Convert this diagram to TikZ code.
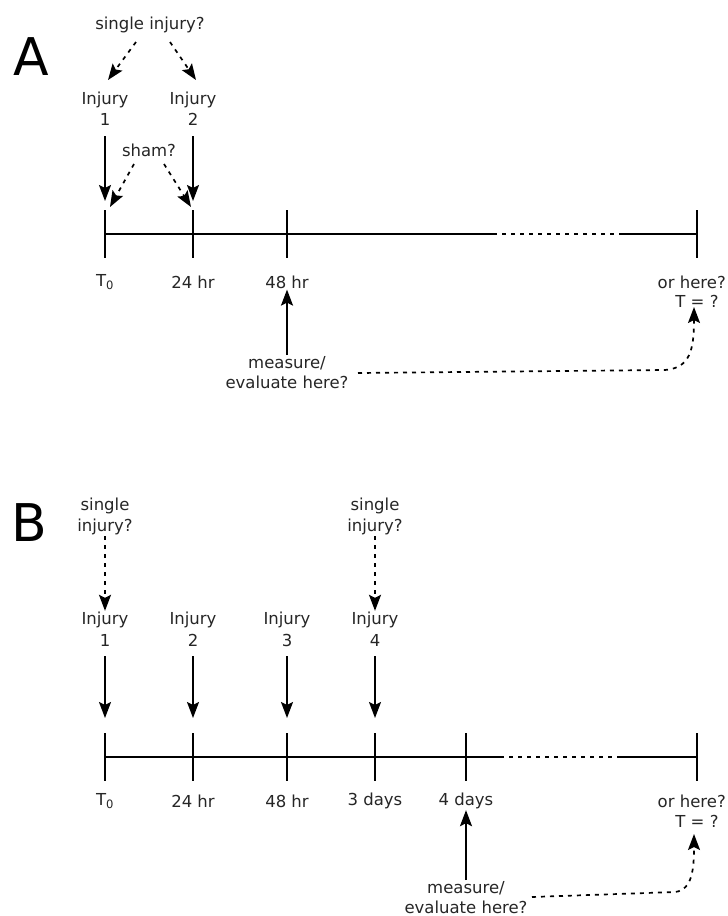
\documentclass[tikz,border=0pt]{standalone}
\usepackage{fontspec}
\setmainfont{DejaVu Sans}
\usetikzlibrary{arrows.meta}
\begin{document}
\begin{tikzpicture}[x=1pt,y=-1pt,
  lbl/.style={font=\fontsize{16.5}{18}\selectfont, inner sep=1pt, text=black!85},
  big/.style={font=\fontsize{52}{56}\selectfont, inner sep=0pt},
  tline/.style={line width=1.8pt},
  arr/.style={line width=1.8pt,-{Stealth[length=16pt,width=12pt,inset=3pt]}},
  darr/.style={line width=1.7pt,dash pattern=on 4pt off 5pt,-{Stealth[length=16pt,width=12pt,inset=3pt]}},
  dline/.style={line width=1.7pt,dash pattern=on 4pt off 5pt}]
\useasboundingbox (0,0) rectangle (728,916);
\fill[white] (0,0) rectangle (728,916);

% ---------------- Panel A ----------------
\node[big] (A) at (31,57) {A};
\node[lbl] (sA) at (150,25) {single injury?};
\node[lbl] (i1a) at (105,100) {Injury};
\node[lbl] (n1a) at (105,119) {1};
\node[lbl] (i2a) at (193,100) {Injury};
\node[lbl] (n2a) at (193,119) {2};
\node[lbl] (sham) at (149,150) {sham?};

\coordinate (a0) at (105,234);
\coordinate (a1) at (193,234);
\coordinate (a2) at (287,234);
\coordinate (aE) at (697,234);
\coordinate (ad1) at (493,234);
\coordinate (ad2) at (620,234);

\draw[tline] (a0) -- (ad1);
\draw[dline] (ad1) -- (ad2);
\draw[tline] (ad2) -- (aE);
\foreach \p in {a0,a1,a2,aE}{
  \draw[tline] ([yshift=24pt]\p) -- ([yshift=-24pt]\p);
}

\coordinate (sAl) at (136,42);
\coordinate (sAr) at (170,42);
\coordinate (t1a) at (108,80);
\coordinate (t2a) at (196,80);
\draw[darr] (sAl) -- (t1a);
\draw[darr] (sAr) -- (t2a);

\coordinate (s1a) at (105,136);
\coordinate (e1a) at (105,201);
\coordinate (s2a) at (193,136);
\coordinate (e2a) at (193,201);
\draw[arr] (s1a) -- (e1a);
\draw[arr] (s2a) -- (e2a);

\coordinate (shl) at (134,164);
\coordinate (shr) at (164,164);
\coordinate (hl) at (110,207);
\coordinate (hr) at (191,207);
\draw[darr] (shl) -- (hl);
\draw[darr] (shr) -- (hr);

\node[lbl] (l0a) at (105,282) {T\textsubscript{0}};
\node[lbl] (l1a) at (193,282) {24 hr};
\node[lbl] (l2a) at (287,282) {48 hr};
\node[lbl,anchor=east] (lEa) at (727,282) {or here?};
\node[lbl] (lTa) at (697,301) {T = ?};

\node[lbl] (mA1) at (287,363) {measure/};
\node[lbl] (mA2) at (287,382) {evaluate here?};
\draw[arr] (mA1.north) -- (l2a.south);

\coordinate (cA0) at (358,373);
\coordinate (cA1) at (665,370);
\coordinate (cA2) at (694,307);
\draw[darr] (cA0) -- (cA1) .. controls (690,368) and (694,350) .. (cA2);

% ---------------- Panel B ----------------
\node[big] (B) at (29,523) {B};
\node[lbl] (sB1a) at (105,506) {single};
\node[lbl] (sB1b) at (105,527) {injury?};
\node[lbl] (sB4a) at (375,506) {single};
\node[lbl] (sB4b) at (375,527) {injury?};

\node[lbl] (i1b) at (105,620) {Injury};
\node[lbl] (n1b) at (105,640) {1};
\node[lbl] (i2b) at (193,620) {Injury};
\node[lbl] (n2b) at (193,640) {2};
\node[lbl] (i3b) at (287,620) {Injury};
\node[lbl] (n3b) at (287,640) {3};
\node[lbl] (i4b) at (375,620) {Injury};
\node[lbl] (n4b) at (375,640) {4};

\draw[darr] (sB1b.south) -- (i1b.north);
\draw[darr] (sB4b.south) -- (i4b.north);

\coordinate (b0) at (105,757);
\coordinate (b1) at (193,757);
\coordinate (b2) at (287,757);
\coordinate (b3) at (375,757);
\coordinate (b4) at (466,757);
\coordinate (bE) at (697,757);
\coordinate (bd1) at (500,757);
\coordinate (bd2) at (618,757);

\draw[tline] (b0) -- (bd1);
\draw[dline] (bd1) -- (bd2);
\draw[tline] (bd2) -- (bE);
\foreach \p in {b0,b1,b2,b3,b4,bE}{
  \draw[tline] ([yshift=24pt]\p) -- ([yshift=-24pt]\p);
}

\foreach \n/\x in {1/105,2/193,3/287,4/375}{
  \coordinate (sb\n) at (\x,656);
  \coordinate (eb\n) at (\x,718);
  \draw[arr] (sb\n) -- (eb\n);
}

\node[lbl] (l0b) at (105,801) {T\textsubscript{0}};
\node[lbl] (l1b) at (193,801) {24 hr};
\node[lbl] (l2b) at (287,801) {48 hr};
\node[lbl] (l3b) at (375,801) {3 days};
\node[lbl] (l4b) at (466,801) {4 days};
\node[lbl,anchor=east] (lEb) at (727,801) {or here?};
\node[lbl] (lTb) at (697,821) {T = ?};

\node[lbl] (mB1) at (466,888) {measure/};
\node[lbl] (mB2) at (466,907) {evaluate here?};
\draw[arr] (mB1.north) -- (l4b.south);

\coordinate (cB0) at (532,897);
\coordinate (cB1) at (675,892);
\coordinate (cB2) at (694,834);
\draw[darr] (cB0) -- (cB1) .. controls (692,890) and (694,870) .. (cB2);
\end{tikzpicture}
\end{document}
